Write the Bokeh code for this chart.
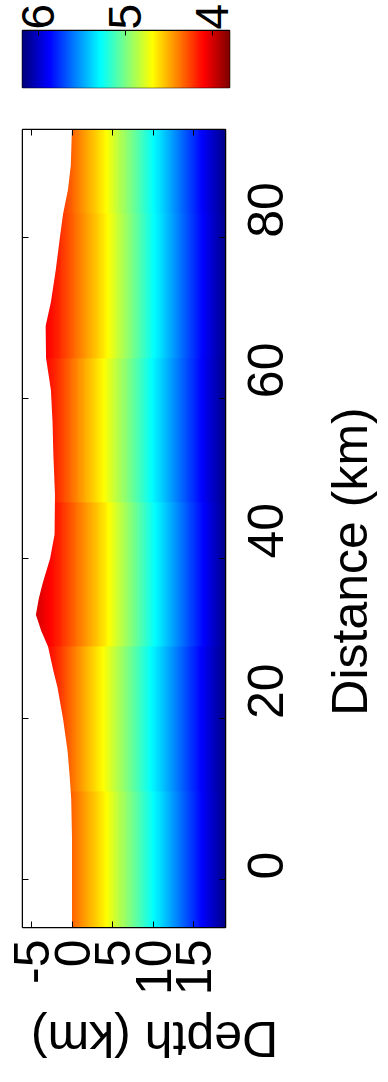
import math
import numpy as np
from bokeh.plotting import figure
from bokeh.models import Range1d, LinearAxis, FixedTicker, LinearColorMapper, ColumnDataSource
from bokeh.core.properties import value
from bokeh.transform import linear_cmap
from bokeh.layouts import column, row
from bokeh.embed import file_html
from bokeh.resources import INLINE

# ---------------- data ----------------
depth_ticks = [-5, 0, 5, 10, 15]
depth_tick_labels = ["-5", "0", "5", "10", "15"]
distance_ticks = [0, 20, 40, 60, 80]
cbar_ticks = [4, 5, 6]
vel_low, vel_high = 3.8, 6.18
depth_min, depth_max = -6.1, 18.9
dist_min, dist_max = -6.0, 93.5

# lateral blocks of the velocity model (km)
block_edges = [-7, 11, 29, 47, 65, 83, 101]
# velocity (km/s) at depth nodes for each block
z_nodes = [-6, -4, -2, 0, 2, 4, 7, 10, 13, 16, 19]
vel_block_1 = [3.95, 4.05, 4.17, 4.33, 4.50, 4.67, 4.98, 5.28, 5.58, 5.88, 6.17]
vel_block_2 = [3.95, 4.05, 4.18, 4.36, 4.54, 4.71, 5.01, 5.31, 5.60, 5.89, 6.17]
vel_block_3 = [3.93, 4.03, 4.15, 4.31, 4.47, 4.64, 4.95, 5.26, 5.56, 5.86, 6.16]
vel_block_4 = [3.95, 4.06, 4.19, 4.36, 4.53, 4.70, 5.00, 5.30, 5.59, 5.88, 6.17]
vel_block_5 = [3.93, 4.04, 4.16, 4.32, 4.48, 4.65, 4.96, 5.27, 5.57, 5.87, 6.16]
vel_block_6 = [3.95, 4.05, 4.17, 4.33, 4.50, 4.67, 4.98, 5.28, 5.58, 5.88, 6.17]
vel_blocks = [vel_block_1, vel_block_2, vel_block_3, vel_block_4, vel_block_5, vel_block_6]

# surface topography (depth of the free surface, km) along distance
topo_distance = [-7, 0, 5, 10, 13, 16, 20, 24, 26, 29, 31, 33, 35, 37, 40, 43, 48,
                 53, 57, 61, 65, 69, 72, 76, 80, 83, 86, 89, 94, 101]
topo_depth = [0, 0, 0, -0.1, -0.3, -0.55, -1.1, -1.8, -2.3, -2.95, -3.8, -4.45, -4.1,
              -3.6, -2.7, -2.15, -2.1, -2.3, -2.4, -2.6, -3.2, -3.25, -2.6, -2.0, -1.5,
              -1.1, -0.5, -0.15, 0, 0]

# ---------------- styling ----------------
FONT = "Liberation Sans"
FS = "50px"


def jet(n):
    out = []
    for i in range(n):
        t = i / (n - 1)
        r = min(max(1.5 - abs(4 * t - 3), 0), 1)
        g = min(max(1.5 - abs(4 * t - 2), 0), 1)
        b = min(max(1.5 - abs(4 * t - 1), 0), 1)
        out.append("#%02x%02x%02x" % (round(r * 255), round(g * 255), round(b * 255)))
    return out


palette = jet(256)[::-1]  # low velocity -> dark red, high -> dark blue
mapper = LinearColorMapper(palette=palette, low=vel_low, high=vel_high)

# ---------------- colorbar figure ----------------
cb = figure(frame_width=207, frame_height=57,
            x_range=Range1d(vel_high, vel_low), y_range=Range1d(0, 1),
            x_axis_location="above", y_axis_location=None,
            output_backend="svg", toolbar_location=None,
            min_border_left=22, min_border_right=10, min_border_top=30, min_border_bottom=13)
cb.grid.visible = False
cb.outline_line_color = "black"
cb.outline_line_width = 1.5
cb_edges = np.linspace(vel_low, vel_high, 257)
cb_src = ColumnDataSource(dict(left=cb_edges[1:], right=cb_edges[:-1],
                               mid=(cb_edges[:-1] + cb_edges[1:]) / 2))
cb.quad(left="left", right="right", bottom=0, top=1,
        fill_color=linear_cmap("mid", palette, vel_low, vel_high),
        line_color=linear_cmap("mid", palette, vel_low, vel_high), line_width=1,
        source=cb_src)
cax = cb.xaxis[0]
cax.ticker = FixedTicker(ticks=cbar_ticks)
cax.major_label_orientation = math.pi / 2
cax.major_label_text_font = FONT
cax.major_label_text_font_size = "46px"
cax.major_label_text_color = "black"
cax.major_label_standoff = 1
cax.major_tick_in = 5
cax.major_tick_out = 0
cax.minor_tick_line_color = None
cax.axis_line_color = "black"

# ---------------- main figure ----------------
p = figure(frame_width=203, frame_height=798,
           x_range=Range1d(depth_min, depth_max), y_range=Range1d(dist_min, dist_max),
           x_axis_location="below", y_axis_location="right",
           output_backend="svg", toolbar_location=None,
           min_border_left=22, min_border_top=29, min_border_right=98, min_border_bottom=70)
p.grid.visible = False
p.outline_line_color = "black"
p.outline_line_width = 1.5

# velocity image: rows along distance, columns along depth
n_rows = int((block_edges[-1] - block_edges[0]) * 4)
n_cols = 400
z_cols = depth_min + (np.arange(n_cols) + 0.5) * (depth_max - depth_min) / n_cols
d_rows = block_edges[0] + (np.arange(n_rows) + 0.5) * (block_edges[-1] - block_edges[0]) / n_rows
img = np.zeros((n_rows, n_cols))
for i, d in enumerate(d_rows):
    k = min(max(np.searchsorted(block_edges, d) - 1, 0), len(vel_blocks) - 1)
    img[i, :] = np.interp(z_cols, z_nodes, vel_blocks[k])
p.image(image=[img], x=depth_min, y=block_edges[0], dw=depth_max - depth_min,
        dh=block_edges[-1] - block_edges[0], color_mapper=mapper)

# air above the topography
p.harea(x1=[depth_min - 1] * len(topo_distance), x2=topo_depth, y=topo_distance,
        fill_color="white")

xax = p.xaxis[0]
xax.ticker = FixedTicker(ticks=depth_ticks)
xax.major_label_overrides = {t: s for t, s in zip(depth_ticks, depth_tick_labels)}
xax.major_label_orientation = math.pi / 2
xax.major_label_standoff = 12
yax = p.yaxis[0]
yax.ticker = FixedTicker(ticks=distance_ticks)
yax.major_label_orientation = math.pi / 2
yax.major_label_standoff = 40
for ax in (xax, yax):
    ax.major_label_text_font = FONT
    ax.major_label_text_font_size = FS
    ax.major_label_text_color = "black"
    ax.major_tick_in = 6
    ax.major_tick_out = 0
    ax.minor_tick_line_color = None
    ax.axis_line_color = "black"

# tick-only axes on the opposite sides
top_ax = LinearAxis(ticker=FixedTicker(ticks=depth_ticks),
                    major_label_overrides={t: "" for t in depth_ticks},
                    major_label_text_font_size="8px",
                    major_tick_in=6, major_tick_out=0, minor_tick_line_color=None,
                    major_label_standoff=0)
left_ax = LinearAxis(ticker=FixedTicker(ticks=distance_ticks),
                     major_label_overrides={t: "" for t in distance_ticks},
                     major_label_text_font_size="8px",
                     major_tick_in=6, major_tick_out=0, minor_tick_line_color=None,
                     major_label_standoff=0)
p.add_layout(top_ax, "above")
p.add_layout(left_ax, "left")

# ---------------- distance title strip (reads upward, as in the rotated figure) ----------------
d = figure(frame_width=56, frame_height=897, x_range=Range1d(0, 56), y_range=Range1d(0, 897),
           x_axis_location=None, y_axis_location=None,
           output_backend="svg", toolbar_location=None,
           min_border_left=0, min_border_right=0, min_border_top=0, min_border_bottom=0)
d.grid.visible = False
d.outline_line_color = None
d.text(x=[26], y=[465], text=["Distance (km)"], angle=math.pi / 2,
       text_align="center", text_baseline="middle",
       text_font=value(FONT), text_font_size=FS, text_color="black")

# ---------------- depth title strip (shown upside down, as in the rotated figure) ----------------
t = figure(frame_width=290, frame_height=70, x_range=Range1d(0, 290), y_range=Range1d(0, 70),
           x_axis_location=None, y_axis_location=None,
           output_backend="svg", toolbar_location=None,
           min_border_left=0, min_border_right=0, min_border_top=0, min_border_bottom=0)
t.grid.visible = False
t.outline_line_color = None
t.text(x=[132], y=[30], text=["Depth (km)"], angle=math.pi,
       text_align="center", text_baseline="middle",
       text_font=value(FONT), text_font_size=FS, text_color="black")

layout = column(cb, row(p, d, spacing=0), t, spacing=0)
open("out.html", "w").write(file_html(layout, INLINE))
